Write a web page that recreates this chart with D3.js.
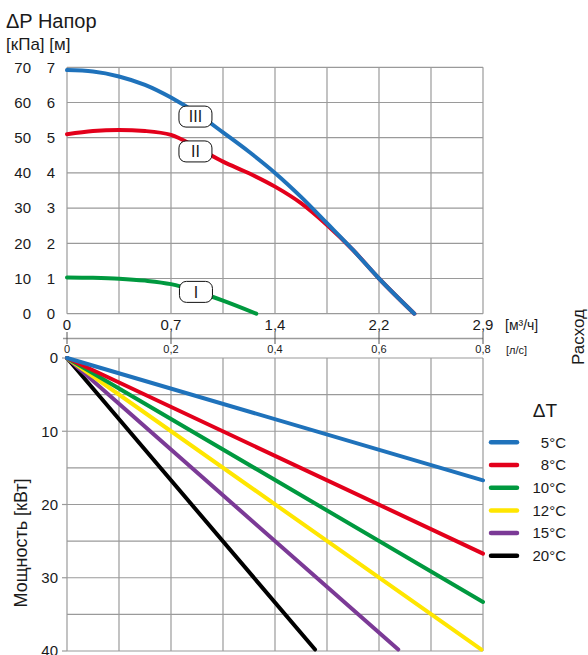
<!DOCTYPE html>
<html>
<head>
<meta charset="utf-8">
<script src="https://cdn.jsdelivr.net/npm/d3@7"></script>
<style>
  body { margin: 0; background: #fff; }
  text { font-family: "Liberation Sans", Arial, sans-serif; fill: #1a1a1a; }
</style>
</head>
<body>
<div id="chart"></div>
<script>
// pump curves, flow in l/s, head in m
var flowLs   = [0, 0.05, 0.1, 0.15, 0.2, 0.25, 0.3, 0.35, 0.4, 0.45, 0.5, 0.55, 0.6, 0.668];
var headIII  = [6.92, 6.88, 6.74, 6.5, 6.14, 5.69, 5.15, 4.6, 4.0, 3.32, 2.57, 1.81, 1.0, 0];
var headII   = [5.1, 5.19, 5.22, 5.19, 5.08, 4.72, 4.32, 3.99, 3.61, 3.14, 2.52, 1.81, 1.0, 0];
var flowI    = [0, 0.05, 0.1, 0.15, 0.2, 0.25, 0.3, 0.364];
var headI    = [1.03, 1.02, 0.995, 0.94, 0.84, 0.63, 0.37, 0];
var speedLabels = ["III", "II", "I"];
var speedLabelFlow = [0.247, 0.247, 0.248];
var speedLabelHead = [5.6, 4.61, 0.62];

// axes
var headTicksM = [0, 1, 2, 3, 4, 5, 6, 7];
var headTicksKpa = ["0", "10", "20", "30", "40", "50", "60", "70"];
var flowTicksLs = [0, 0.2, 0.4, 0.6, 0.8];
var flowTickM3h = ["0", "0,7", "1,4", "2,2", "2,9"];
var flowTickLsText = ["0", "0,2", "0,4", "0,6", "0,8"];
var powerTicks = [0, 10, 20, 30, 40];

// power lines, end point of each line (start is 0,0)
var deltaT = ["5°C", "8°C", "10°C", "12°C", "15°C", "20°C"];
var powerEndFlow = [0.8, 0.8, 0.8, 0.797, 0.637, 0.477];
var powerEndKw = [16.7, 26.7, 33.3, 39.8, 39.8, 39.8];
var lineColors = ["#1f72bb", "#e3001b", "#00993f", "#ffe600", "#7b3a96", "#000000"];

var svgWidth = 588;
var svgHeight = 655;

var svg = d3.select("#chart")
    .append("svg")
        .attr("width", svgWidth)
        .attr("height", svgHeight);

var xScale = d3.scaleLinear().domain([0, 0.8]).range([67, 483]);
var yTop = d3.scaleLinear().domain([0, 7]).range([313.7, 67.3]);
var yBot = d3.scaleLinear().domain([0, 40]).range([358, 651]);

var gridColor = "#9a9a9a";

// ---------- top chart grid ----------
var gridTop = svg.append("g");
gridTop.selectAll(".v")
    .data(d3.range(0, 9).map(function (i) { return i / 10; }))
    .enter().append("line")
    .attr("x1", function (d) { return xScale(d); })
    .attr("x2", function (d) { return xScale(d); })
    .attr("y1", yTop(0)).attr("y2", yTop(7))
    .attr("stroke", gridColor).attr("stroke-width", 1.2);
gridTop.selectAll(".h")
    .data(headTicksM)
    .enter().append("line")
    .attr("x1", xScale(0)).attr("x2", xScale(0.8))
    .attr("y1", function (d) { return yTop(d); })
    .attr("y2", function (d) { return yTop(d); })
    .attr("stroke", gridColor).attr("stroke-width", 1.2);

// ---------- bottom chart grid ----------
var gridBot = svg.append("g");
gridBot.selectAll(".v")
    .data(d3.range(0, 9).map(function (i) { return i / 10; }))
    .enter().append("line")
    .attr("x1", function (d) { return xScale(d); })
    .attr("x2", function (d) { return xScale(d); })
    .attr("y1", yBot(0)).attr("y2", yBot(40))
    .attr("stroke", gridColor).attr("stroke-width", 1.2);
gridBot.selectAll(".h")
    .data(d3.range(0, 9).map(function (i) { return i * 5; }))
    .enter().append("line")
    .attr("x1", xScale(0)).attr("x2", xScale(0.8))
    .attr("y1", function (d) { return yBot(d); })
    .attr("y2", function (d) { return yBot(d); })
    .attr("stroke", gridColor).attr("stroke-width", 1.2);
gridBot.selectAll(".tick")
    .data(powerTicks)
    .enter().append("line")
    .attr("x1", xScale(0) - 5).attr("x2", xScale(0))
    .attr("y1", function (d) { return yBot(d); })
    .attr("y2", function (d) { return yBot(d); })
    .attr("stroke", gridColor).attr("stroke-width", 1.2);

// ---------- top chart labels ----------
svg.append("text").attr("x", 6).attr("y", 28)
    .style("font-size", "20px").text("ΔP Напор");
svg.append("text").attr("x", 6).attr("y", 50)
    .style("font-size", "17px").text("[кПа] [м]");

svg.selectAll(".kpa")
    .data(headTicksM)
    .enter().append("text")
    .attr("x", 31)
    .attr("y", function (d) { return yTop(d); })
    .attr("dy", "0.35em")
    .attr("text-anchor", "end")
    .style("font-size", "15px")
    .text(function (d, i) { return headTicksKpa[i]; });
svg.selectAll(".m")
    .data(headTicksM)
    .enter().append("text")
    .attr("x", 55)
    .attr("y", function (d) { return yTop(d); })
    .attr("dy", "0.35em")
    .attr("text-anchor", "end")
    .style("font-size", "15px")
    .text(function (d) { return d; });

svg.selectAll(".m3h")
    .data(flowTicksLs)
    .enter().append("text")
    .attr("x", function (d) { return xScale(d); })
    .attr("y", 325)
    .attr("dy", "0.35em")
    .attr("text-anchor", "middle")
    .style("font-size", "15px")
    .text(function (d, i) { return flowTickM3h[i]; });
svg.append("text").attr("x", 505).attr("y", 325).attr("dy", "0.35em")
    .style("font-size", "14px").text("[м³/ч]");

// l/s axis
svg.append("line")
    .attr("x1", xScale(0) - 4).attr("x2", xScale(0.8))
    .attr("y1", 338.5).attr("y2", 338.5)
    .attr("stroke", gridColor).attr("stroke-width", 1.5);
svg.selectAll(".lstick")
    .data(flowTicksLs)
    .enter().append("line")
    .attr("x1", function (d) { return xScale(d); })
    .attr("x2", function (d) { return xScale(d); })
    .attr("y1", 332).attr("y2", 344)
    .attr("stroke", "#555").attr("stroke-width", 1);
svg.selectAll(".lstext")
    .data(flowTicksLs)
    .enter().append("text")
    .attr("x", function (d) { return xScale(d); })
    .attr("y", 349)
    .attr("dy", "0.35em")
    .attr("text-anchor", "middle")
    .style("font-size", "11px")
    .text(function (d, i) { return flowTickLsText[i]; });
svg.append("text").attr("x", 506).attr("y", 350).attr("dy", "0.35em")
    .style("font-size", "11px").text("[л/с]");

svg.append("text")
    .attr("transform", "translate(584,337) rotate(-90)")
    .attr("text-anchor", "middle")
    .style("font-size", "17px").text("Расход");

// ---------- pump curves ----------
var curve = d3.line()
    .x(function (d) { return xScale(d[0]); })
    .y(function (d) { return yTop(d[1]); })
    .curve(d3.curveMonotoneX);

var pumpSeries = [
    { pts: d3.zip(flowLs, headII), color: lineColors[1] },
    { pts: d3.zip(flowLs, headIII), color: lineColors[0] },
    { pts: d3.zip(flowI, headI), color: lineColors[2] }
];
svg.selectAll(".pump")
    .data(pumpSeries)
    .enter().append("path")
    .attr("d", function (d) { return curve(d.pts); })
    .attr("fill", "none")
    .attr("stroke", function (d) { return d.color; })
    .attr("stroke-width", 4)
    .attr("stroke-linecap", "round");

var badge = svg.selectAll(".badge")
    .data(speedLabels)
    .enter().append("g")
    .attr("transform", function (d, i) {
        return "translate(" + xScale(speedLabelFlow[i]) + "," + yTop(speedLabelHead[i]) + ")";
    });
badge.append("rect")
    .attr("x", -16.5).attr("y", -10.5)
    .attr("width", 33).attr("height", 21)
    .attr("rx", 7)
    .attr("fill", "#fff").attr("stroke", "#111").attr("stroke-width", 1);
badge.append("text")
    .attr("text-anchor", "middle")
    .attr("dy", "0.36em")
    .style("font-size", "16px")
    .text(function (d) { return d; });

// ---------- bottom chart ----------
svg.selectAll(".pw")
    .data(powerTicks)
    .enter().append("text")
    .attr("x", 58)
    .attr("y", function (d) { return yBot(d); })
    .attr("dy", "0.35em")
    .attr("text-anchor", "end")
    .style("font-size", "15px")
    .text(function (d) { return d; });

svg.append("text")
    .attr("transform", "translate(27,543) rotate(-90)")
    .attr("text-anchor", "middle")
    .style("font-size", "18px").text("Мощность [кВт]");

var straight = d3.line()
    .x(function (d) { return xScale(d[0]); })
    .y(function (d) { return yBot(d[1]); });

// draw 5°C on top, 20°C at the bottom of the stack
var order = [5, 4, 3, 2, 1, 0];
svg.selectAll(".power")
    .data(order)
    .enter().append("path")
    .attr("d", function (i) { return straight([[0, 0], [powerEndFlow[i], powerEndKw[i]]]); })
    .attr("fill", "none")
    .attr("stroke", function (i) { return lineColors[i]; })
    .attr("stroke-width", 4)
    .attr("stroke-linecap", "round");

// legend
svg.append("text").attr("x", 545).attr("y", 410).attr("dy", "0.35em")
    .attr("text-anchor", "middle")
    .style("font-size", "19px").text("ΔT");
var legend = svg.selectAll(".leg")
    .data(deltaT)
    .enter().append("g")
    .attr("transform", function (d, i) { return "translate(0," + (442.3 + i * 22.7) + ")"; });
legend.append("line")
    .attr("x1", 491).attr("x2", 517)
    .attr("stroke", function (d, i) { return lineColors[i]; })
    .attr("stroke-width", 4.5)
    .attr("stroke-linecap", "round");
legend.append("text")
    .attr("x", 566)
    .attr("dy", "0.35em")
    .attr("text-anchor", "end")
    .style("font-size", "15px")
    .text(function (d) { return d; });
</script>
</body>
</html>
